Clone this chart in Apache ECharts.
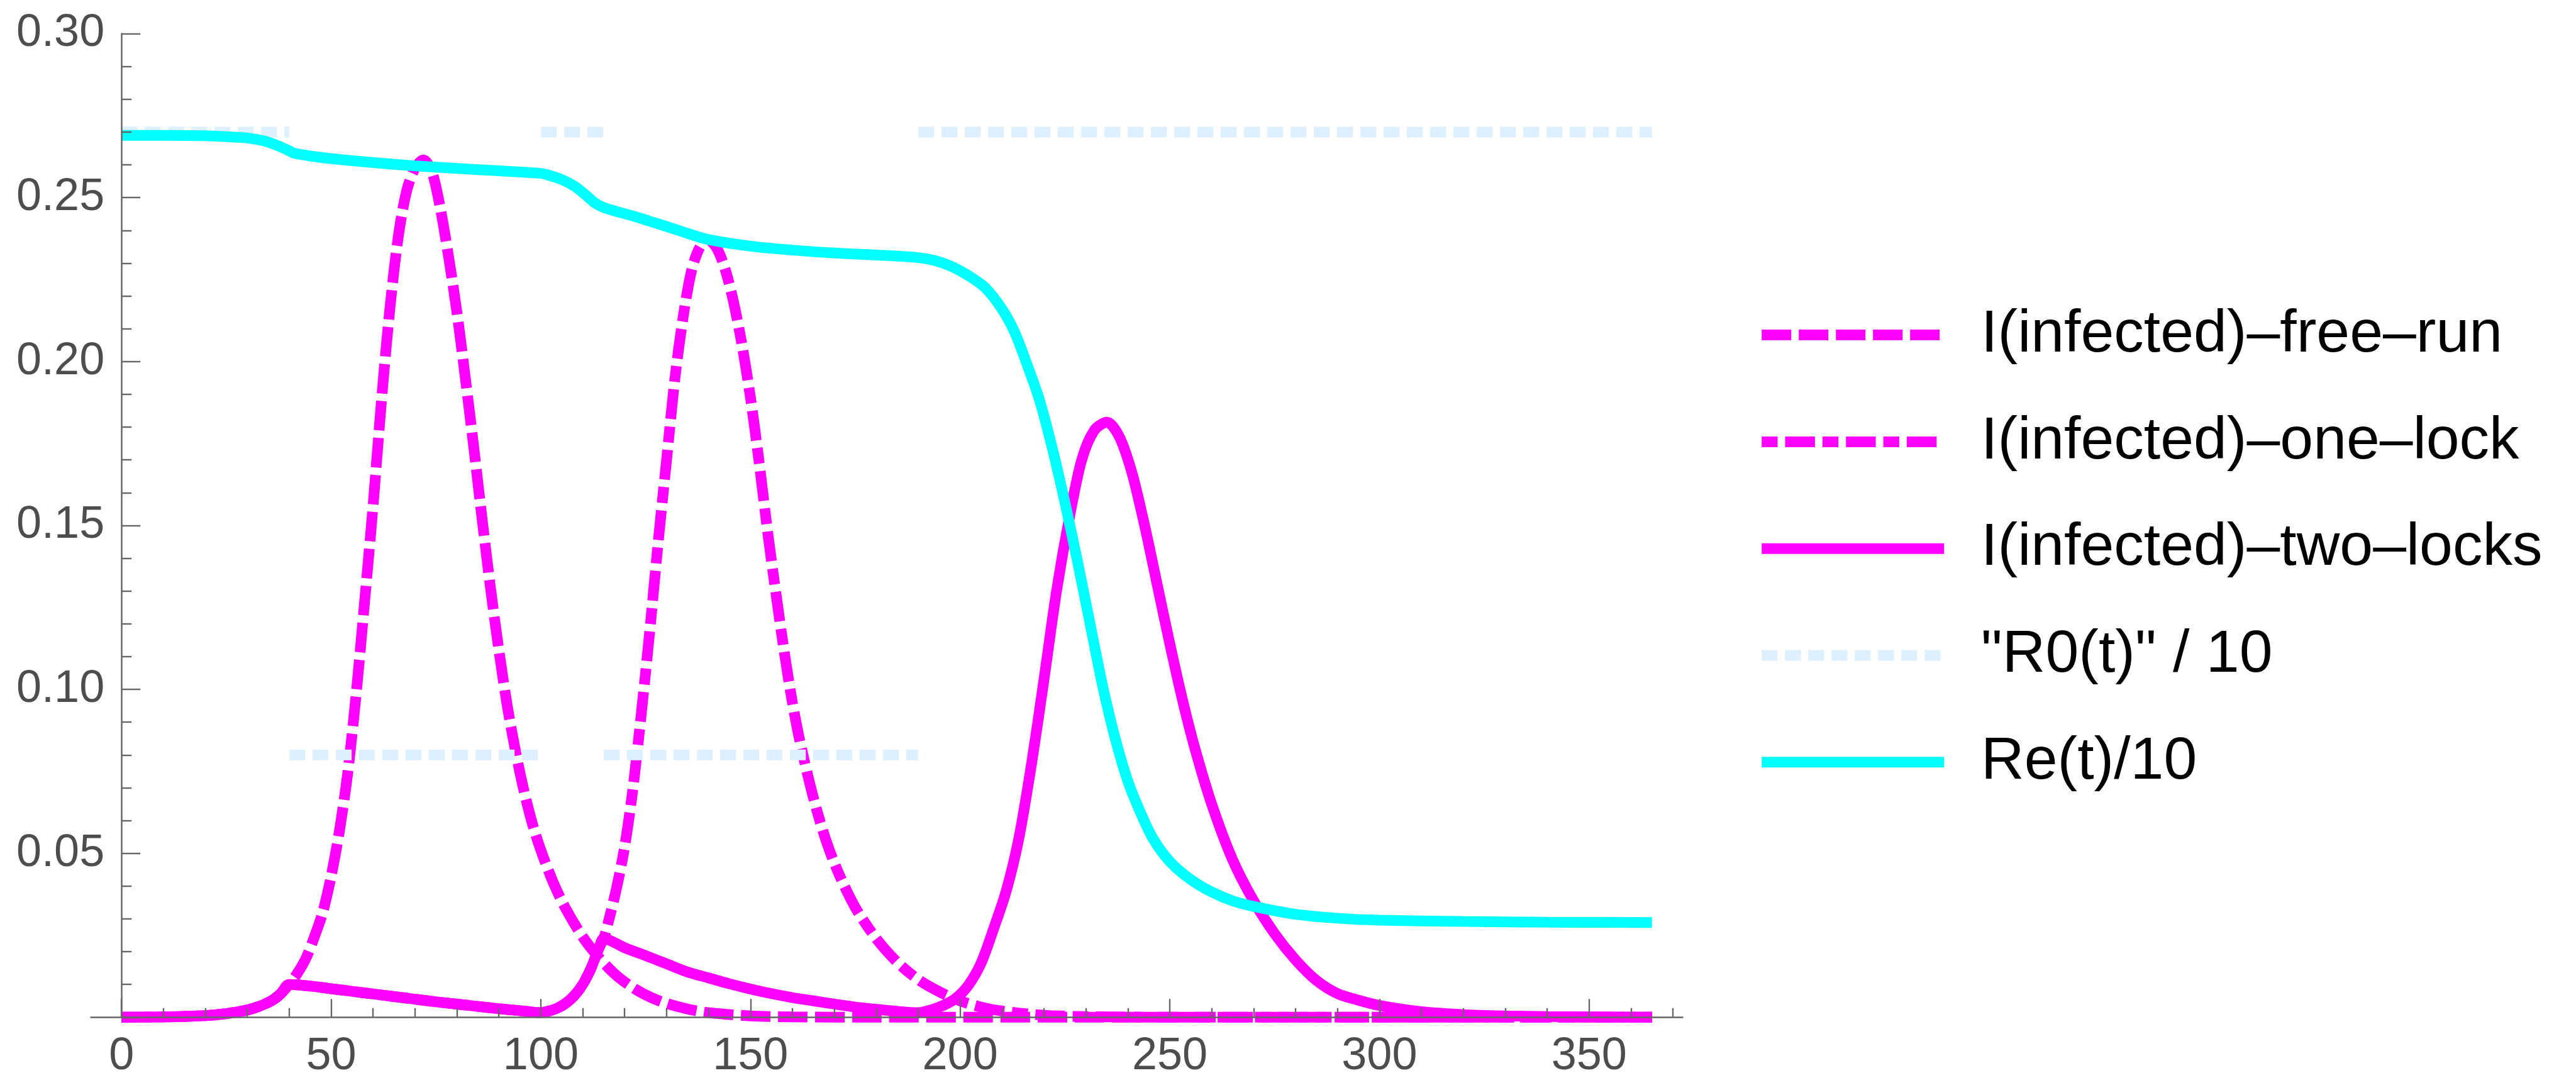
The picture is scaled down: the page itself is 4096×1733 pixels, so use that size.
<!DOCTYPE html>
<html>
<head>
<meta charset="utf-8">
<title>Infected fraction with lockdowns</title>
<script src="https://cdn.jsdelivr.net/npm/echarts@6/dist/echarts.min.js"></script>
<style>
  html, body { margin: 0; padding: 0; background: #ffffff; }
  #chart { width: 4096px; height: 1733px; }
</style>
</head>
<body>
<div id="chart"></div>
<script>
// values (day, fraction)
const freeRunDay = [0, 10, 20, 25, 30, 33, 36, 38, 40, 42, 44, 46, 48, 50, 52, 54, 56, 58, 60, 62, 64, 66, 68, 70,
  72, 74, 76, 78, 80, 82, 84, 86, 88, 90, 92, 94, 96, 98, 100, 103, 106, 110, 114, 118, 122, 126, 130, 135, 140,
  150, 160, 180, 365];
const freeRunI = [0.00002, 0.0001, 0.0005, 0.0011, 0.0022, 0.0034, 0.0052, 0.0072, 0.0100, 0.0135, 0.0180, 0.0245,
  0.0320, 0.0430, 0.0570, 0.0750, 0.0990, 0.1270, 0.1560, 0.1880, 0.2160, 0.2380, 0.2520, 0.2590, 0.2615, 0.2580,
  0.2470, 0.2320, 0.2150, 0.1950, 0.1740, 0.1520, 0.1310, 0.1120, 0.0950, 0.0810, 0.0690, 0.0590, 0.0510, 0.0410,
  0.0330, 0.0245, 0.0180, 0.0128, 0.0090, 0.0062, 0.0042, 0.0025, 0.0014, 0.0004, 0.0001, 0, 0];

const oneLockDay = [0, 10, 20, 25, 30, 33, 36, 38, 40, 45, 50, 55, 60, 65, 70, 75, 80, 85, 90, 95, 100, 102, 104,
  106, 108, 110, 112, 114, 115, 116, 118, 120, 122, 124, 126, 128, 130, 132, 134, 136, 138, 140, 142, 144, 146, 148,
  150, 152, 154, 156, 158, 160, 162, 165, 168, 171, 175, 180, 185, 190, 195, 200, 205, 210, 220, 230, 250, 365];
const oneLockI = [0.00002, 0.0001, 0.0005, 0.0011, 0.0022, 0.0034, 0.0052, 0.0072, 0.0100, 0.0095, 0.0087, 0.0079,
  0.0071, 0.0063, 0.0055, 0.0047, 0.0040, 0.0033, 0.0026, 0.0020, 0.0014, 0.0019, 0.0028, 0.0043, 0.0066, 0.0100,
  0.0150, 0.0215, 0.0240, 0.0285, 0.0390, 0.0520, 0.0700, 0.0930, 0.1180, 0.1450, 0.1700, 0.1950, 0.2140, 0.2280,
  0.2350, 0.2370, 0.2345, 0.2280, 0.2180, 0.2050, 0.1890, 0.1700, 0.1490, 0.1300, 0.1120, 0.0960, 0.0830, 0.0670,
  0.0540, 0.0440, 0.0335, 0.0240, 0.0168, 0.0115, 0.0078, 0.0050, 0.0031, 0.0019, 0.0006, 0.0002, 0, 0];

const twoLockDay = [0, 10, 20, 25, 30, 33, 36, 38, 40, 45, 50, 55, 60, 65, 70, 75, 80, 85, 90, 95, 100, 102, 104,
  106, 108, 110, 112, 114, 115, 120, 125, 130, 135, 140, 145, 150, 155, 160, 165, 170, 175, 180, 185, 190, 193, 196,
  199, 202, 205, 208, 211, 214, 217, 220, 223, 226, 229, 232, 235, 238, 241, 244, 247, 250, 253, 256, 260, 265, 270,
  275, 280, 285, 290, 295, 300, 310, 320, 330, 340, 365];
const twoLockI = [0.00002, 0.0001, 0.0005, 0.0011, 0.0022, 0.0034, 0.0052, 0.0072, 0.0100, 0.0095, 0.0087, 0.0079,
  0.0071, 0.0063, 0.0055, 0.0047, 0.0040, 0.0033, 0.0026, 0.0020, 0.0014, 0.0019, 0.0028, 0.0043, 0.0066, 0.0100,
  0.0150, 0.0215, 0.0240, 0.0212, 0.0188, 0.0163, 0.0138, 0.0120, 0.0102, 0.0086, 0.0072, 0.0060, 0.0050, 0.0040,
  0.0031, 0.0024, 0.0018, 0.0014, 0.0022, 0.0036, 0.0058, 0.0098, 0.0165, 0.0270, 0.0385, 0.0545, 0.0770, 0.1030,
  0.1300, 0.1520, 0.1700, 0.1790, 0.1815, 0.1770, 0.1660, 0.1500, 0.1320, 0.1140, 0.0970, 0.0820, 0.0650, 0.0480,
  0.0355, 0.0255, 0.0175, 0.0112, 0.0072, 0.0052, 0.0036, 0.0017, 0.0008, 0.0004, 0.0002, 0];

// R0 is a step function: one value per period
const r0Start = [0, 40, 100, 115, 190];
const r0End = [40, 100, 115, 190, 365];
const r0Value = [2.7, 0.8, 2.7, 0.8, 2.7];

const reDay = [0, 10, 20, 25, 30, 34, 37, 40, 41, 45, 50, 60, 70, 80, 90, 100, 102, 105, 108, 111, 113, 115, 118,
  122, 126, 130, 135, 140, 150, 160, 170, 180, 190, 194, 198, 202, 206, 210, 213, 216, 219, 222, 225, 228, 231, 234,
  237, 240, 243, 246, 250, 255, 260, 265, 270, 280, 290, 300, 320, 340, 365];
const reOver10 = [0.2690, 0.2690, 0.2689, 0.2686, 0.2682, 0.2673, 0.2660, 0.2643, 0.2636, 0.2627, 0.2619, 0.2607,
  0.2597, 0.2589, 0.2582, 0.2574, 0.2568, 0.2555, 0.2535, 0.2505, 0.2483, 0.2470, 0.2458, 0.2444, 0.2428, 0.2412,
  0.2391, 0.2372, 0.2352, 0.2340, 0.2331, 0.2325, 0.2317, 0.2308, 0.2290, 0.2262, 0.2225, 0.2160, 0.2090, 0.1990,
  0.1880, 0.1735, 0.1570, 0.1390, 0.1200, 0.1010, 0.0850, 0.0720, 0.0625, 0.0545, 0.0475, 0.0420, 0.0382, 0.0355,
  0.0338, 0.0314, 0.0302, 0.0296, 0.0292, 0.0290, 0.0289];

const xLabels = [0, 50, 100, 150, 200, 250, 300, 350];
const xMinor = [10, 20, 30, 40, 60, 70, 80, 90, 110, 120, 130, 140, 160, 170, 180, 190, 210, 220, 230, 240,
  260, 270, 280, 290, 310, 320, 330, 340, 360, 370];

const names = ['I(infected)\u2013free\u2013run', 'I(infected)\u2013one\u2013lock', 'I(infected)\u2013two\u2013locks',
  '"R0(t)" / 10', 'Re(t)/10'];

const magenta = '#ff00ff';
const cyan = '#00ffff';
const lightBlue = '#def0ff';
const axisColor = '#666666';
const labelColor = '#4d4d4d';
const font = 'Liberation Sans';

function pairs(days, vals) {
  return days.map((d, i) => [d, vals[i]]);
}

// step segments, broken apart so no vertical joins are drawn
function r0Data() {
  const out = [];
  r0Start.forEach((s, i) => {
    out.push([s, r0Value[i] / 10], [r0End[i], r0Value[i] / 10]);
    if (i < r0Start.length - 1) out.push([r0End[i], null]);
  });
  return out;
}

const dashes = {
  free: [47, 12],
  one: [25.3, 12, 47.4, 12],
  r0: [25.3, 11.7],
};
const lineW = 17;

function lineSeries(name, data, color, type, extra) {
  return Object.assign({
    name: name,
    type: 'line',
    data: data,
    symbol: 'none',
    smooth: 0.3,
    clip: false,
    color: color,
    lineStyle: { color: color, width: lineW, type: type },
    emphasis: { disabled: true },
  }, extra || {});
}

const chart = echarts.init(document.getElementById('chart'));
chart.setOption({
  animation: false,
  backgroundColor: '#ffffff',
  textStyle: { fontFamily: font },
  grid: { left: 144.5, right: 1420.6, top: 53.6, bottom: 115.7, containLabel: false, outerBoundsMode: 'none' },
  legend: {
    orient: 'vertical',
    left: 2792.7,
    top: 482.6,
    padding: 0,
    itemGap: 69.8,
    itemWidth: 290,
    itemHeight: 17,
    selectedMode: false,
    itemStyle: { opacity: 0 },
    textStyle: { fontFamily: font, fontSize: 95, color: '#000000', lineHeight: 100, padding: [0, 0, 0, 53.9] },
    data: [
      { name: names[0], lineStyle: { width: 17, type: dashes.free } },
      { name: names[1], lineStyle: { width: 17, type: dashes.one } },
      { name: names[2], lineStyle: { width: 17, type: 'solid' } },
      { name: names[3], lineStyle: { width: 17, type: dashes.r0 } },
      { name: names[4], lineStyle: { width: 17, type: 'solid' } },
    ],
  },
  xAxis: [{
    type: 'value',
    min: -7.3,
    max: 372.3,
    position: 'bottom',
    z: 10,
    axisLine: { show: true, onZero: true, lineStyle: { color: axisColor, width: 2.5 } },
    axisTick: { show: true, inside: true, length: 29, customValues: xLabels, lineStyle: { color: axisColor, width: 2.4 } },
    axisLabel: { show: true, customValues: xLabels, margin: 27, color: labelColor, fontSize: 72, fontFamily: font },
    splitLine: { show: false },
  }, {
    type: 'value',
    min: -7.3,
    max: 372.3,
    position: 'bottom',
    z: 10,
    axisLine: { show: false },
    axisTick: { show: true, inside: true, length: 14.5, customValues: xMinor, lineStyle: { color: axisColor, width: 2.4 } },
    axisLabel: { show: false },
    splitLine: { show: false },
  }],
  yAxis: {
    type: 'value',
    min: 0,
    max: 0.3,
    interval: 0.05,
    z: 10,
    axisLine: { show: true, onZero: true, lineStyle: { color: axisColor, width: 2.5 } },
    axisTick: { show: true, inside: true, length: 30, lineStyle: { color: axisColor, width: 2.4 } },
    minorTick: { show: true, splitNumber: 5, length: 16, lineStyle: { color: axisColor, width: 2.4 } },
    axisLabel: {
      showMinLabel: false,
      // labels are laid out from the grid edge, the axis line sits at day 0
      margin: -21.7,
      color: labelColor,
      fontSize: 72,
      fontFamily: font,
      formatter: (v) => v.toFixed(2),
    },
    splitLine: { show: false },
    minorSplitLine: { show: false },
  },
  series: [
    lineSeries(names[0], pairs(freeRunDay, freeRunI), magenta, dashes.free),
    lineSeries(names[1], pairs(oneLockDay, oneLockI), magenta, dashes.one),
    lineSeries(names[2], pairs(twoLockDay, twoLockI), magenta, 'solid'),
    lineSeries(names[3], r0Data(), lightBlue, dashes.r0, { smooth: false, connectNulls: false }),
    lineSeries(names[4], pairs(reDay, reOver10), cyan, 'solid'),
  ],
});
</script>
</body>
</html>
